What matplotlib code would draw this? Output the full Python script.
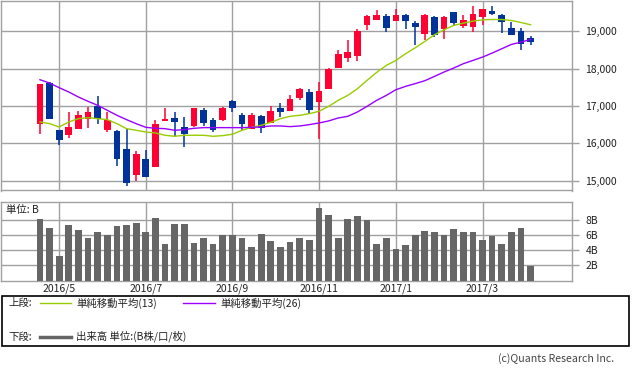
import matplotlib
matplotlib.use("Agg")
import matplotlib.pyplot as plt
import numpy as np
import pandas as pd

plt.rcParams['font.family'] = ['Noto Sans CJK JP', 'DejaVu Sans']

# weekly candles, 2016/4/18 - 2017/4/10
start_date = '2016-04-18'
opens = [16509, 17616, 16366, 16214, 16375, 16651, 16991, 16348, 16330, 15839,
         15142, 15571, 15365, 16598, 16669, 16428, 16455, 16884, 16616, 16616,
         17125, 16750, 16392, 16723, 16544, 16937, 16857, 17205, 17366, 17098,
         17446, 18009, 18277, 18330, 19161, 19321, 19402, 19268, 19455, 19214,
         18920, 19375, 19054, 19509, 19134, 19107, 19375, 19536, 19429, 19080,
         19000, 18812]
closes = [17580, 16651, 16080, 16428, 16750, 16830, 16642, 16616, 15571, 14928,
          15705, 15089, 16509, 16651, 16571, 16250, 16937, 16544, 16348, 16937,
          16946, 16509, 16750, 16419, 16857, 16839, 17178, 17455, 16884, 17402,
          17991, 18384, 18437, 19000, 19402, 19429, 19080, 19455, 19268, 19116,
          19455, 18893, 19375, 19214, 19295, 19482, 19616, 19482, 19241, 18902,
          18652, 18705]
highs = [17598, 17634, 16366, 16830, 16857, 16964, 17259, 16830, 16348, 16383,
         15785, 15812, 16616, 16946, 16830, 16696, 16937, 16937, 16687, 16973,
         17152, 16803, 16821, 16750, 16991, 17071, 17285, 17473, 17464, 17643,
         18018, 18491, 18759, 19054, 19429, 19589, 19473, 19616, 19473, 19268,
         19473, 19402, 19402, 19509, 19429, 19670, 19616, 19670, 19473, 19241,
         19080, 18866]
lows = [16241, 16651, 15946, 16142, 16375, 16401, 16509, 16303, 15392, 14857,
        14990, 15089, 15365, 16598, 16187, 15901, 16428, 16455, 16294, 16598,
        16830, 16357, 16375, 16276, 16544, 16696, 16857, 17152, 16776, 16116,
        17446, 18009, 18187, 18196, 19027, 19295, 18973, 19268, 19054, 18625,
        18759, 18848, 18786, 19161, 19080, 18973, 19161, 19455, 18946, 18902,
        18491, 18625]
ma13 = [16571, 16526, 16437, 16571, 16660, 16687, 16660, 16634, 16526, 16392,
        16348, 16303, 16276, 16214, 16187, 16214, 16214, 16214, 16187, 16205,
        16241, 16348, 16428, 16482, 16562, 16660, 16723, 16750, 16794, 16857,
        16991, 17152, 17285, 17464, 17687, 17902, 18089, 18223, 18402, 18560,
        18732, 18910, 19045, 19161, 19223, 19277, 19312, 19321, 19321, 19295,
        19241, 19179]
ma26 = [17705, 17616, 17491, 17375, 17241, 17125, 17018, 16884, 16750, 16634,
        16526, 16428, 16401, 16392, 16348, 16366, 16401, 16419, 16419, 16419,
        16419, 16419, 16428, 16437, 16464, 16464, 16446, 16464, 16500, 16544,
        16598, 16678, 16723, 16839, 16991, 17152, 17285, 17437, 17527, 17600,
        17678, 17794, 17911, 18018, 18134, 18223, 18312, 18420, 18536, 18652,
        18714, 18786]
volume = [8.16, 6.97, 3.29, 7.37, 6.71, 5.66, 6.45, 6.05, 7.11, 7.37,
          7.63, 6.32, 8.29, 4.87, 7.5, 7.5, 5.0, 5.53, 4.87, 6.05,
          6.05, 5.66, 4.47, 6.18, 5.26, 4.47, 5.13, 5.66, 5.39, 9.6,
          8.68, 5.66, 8.16, 8.55, 7.94, 4.74, 5.66, 4.21, 4.61, 6.05,
          6.58, 6.32, 6.05, 6.84, 6.45, 6.45, 5.39, 5.92, 4.87, 6.32,
          6.97, 1.93]
price_ticks = [15000, 16000, 17000, 18000, 19000]
volume_ticks = [2, 4, 6, 8]

RED = '#ff0033'
BLUE = '#003399'
GRID = '#a0a0a0'
W, H = 633, 370

dates = pd.date_range(start_date, periods=len(opens), freq='W-MON')
x = np.arange(len(opens))
tick_pos, tick_lab = [], []
for i, d in enumerate(dates):
    if d.month % 2 == 1 and d.day <= 7:
        tick_pos.append(i)
        tick_lab.append(f"{d.year}/{d.month}")

fig = plt.figure(figsize=(W / 100, H / 100), dpi=100)


def px_axes(left, top, right, bottom):
    return fig.add_axes([left / W, 1 - bottom / H, (right - left) / W, (bottom - top) / H])


def style(ax):
    for s in ax.spines.values():
        s.set_color(GRID)
        s.set_linewidth(1)
    ax.yaxis.tick_right()
    ax.tick_params(axis='y', colors=GRID, length=5, width=1, pad=5, labelsize=7.5,
                   labelcolor='#222222')
    ax.tick_params(axis='x', length=0)
    ax.set_xticks(tick_pos)
    ax.grid(True, color=GRID, linewidth=1)
    ax.set_axisbelow(True)
    ax.set_xlim(-4.1, 55.25)


# upper panel
ax1 = px_axes(0.5, 0.5, 571.5, 190.5)
style(ax1)
o = np.array(opens)
c = np.array(closes)
cols = [RED if cc >= oo else BLUE for oo, cc in zip(o, c)]
ax1.vlines(x, lows, highs, colors=cols, linewidth=1.1, zorder=2)
body = np.maximum(np.abs(c - o), 25)
ax1.bar(x, body, bottom=np.minimum(o, c), width=0.7, color=cols, zorder=3)
ax1.plot(x, ma13, color='#99cc00', linewidth=1, zorder=4)
ax1.plot(x, ma26, color='#9900ff', linewidth=1, zorder=4)
ax1.set_ylim(14732, 19831)
ax1.set_yticks(price_ticks)
ax1.set_yticklabels([f"{v:,}" for v in price_ticks])
ax1.set_xticklabels([])

# lower panel
ax2 = px_axes(0.5, 201.5, 571.5, 280.5)
style(ax2)
ax2.bar(x, volume, width=0.7, color='#666666', zorder=3)
ax2.set_ylim(0, 10.4)
ax2.set_yticks(volume_ticks)
ax2.set_yticklabels([f"{v}B" for v in volume_ticks])
ax2.set_xticklabels(tick_lab, fontsize=7.5, color='#222222')
ax2.tick_params(axis='x', pad=2)
ax2.text(5 / 571, 0.89, '単位: B', transform=ax2.transAxes, fontsize=7.5,
         va='center', ha='left', color='#222222',
         bbox=dict(facecolor='white', edgecolor='none', pad=1))

# legend box
fig.patches.append(plt.Rectangle((1.5 / W, 1 - 345.5 / H), 627 / W, 50 / H,
                                 transform=fig.transFigure, fill=False,
                                 edgecolor='black', linewidth=1.2))


def fx(px):
    return px / W


def fy(py):
    return 1 - py / H


fig.text(fx(8), fy(303), '上段:', fontsize=7.5, va='center', color='#222222')
fig.add_artist(plt.Line2D([fx(40), fx(71)], [fy(303), fy(303)], color='#99cc00', linewidth=1))
fig.text(fx(76), fy(303), '単純移動平均(13)', fontsize=7.5, va='center', color='#222222')
fig.add_artist(plt.Line2D([fx(183), fx(215)], [fy(303), fy(303)], color='#9900ff', linewidth=1))
fig.text(fx(220), fy(303), '単純移動平均(26)', fontsize=7.5, va='center', color='#222222')
fig.text(fx(8), fy(336.5), '下段:', fontsize=7.5, va='center', color='#222222')
fig.add_artist(plt.Line2D([fx(40), fx(71)], [fy(336.5), fy(336.5)], color='#666666', linewidth=2.5))
fig.text(fx(76), fy(336.5), '出来高 単位:(B株/口/枚)', fontsize=7.5, va='center', color='#222222')

fig.text(fx(614), fy(359), '(c)Quants Research Inc.', fontsize=7.6, ha='right', va='center',
         color='#444444')

fig.savefig('out.png', dpi=100)
